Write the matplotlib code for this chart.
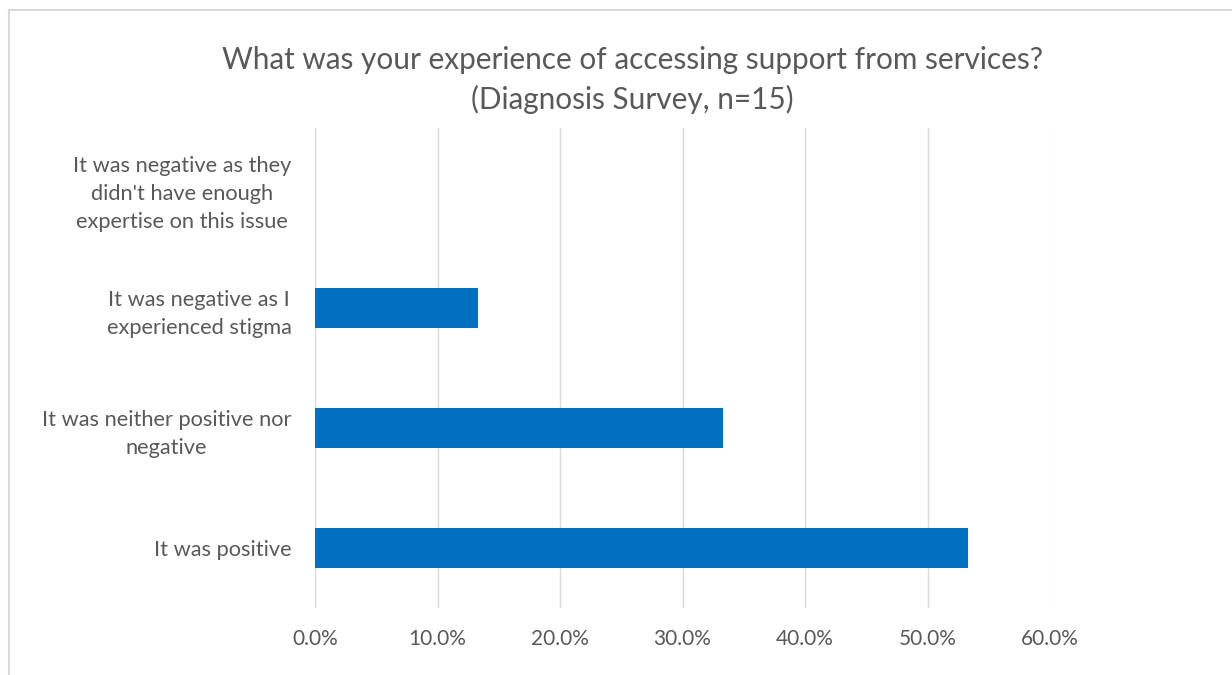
import matplotlib
matplotlib.use("Agg")
import matplotlib.pyplot as plt
from matplotlib.lines import Line2D
from matplotlib.ticker import FuncFormatter, MultipleLocator

categories = [
    "It was positive",
    "It was neither positive nor\nnegative",
    "It was negative as I\nexperienced stigma",
    "It was negative as they\ndidn't have enough\nexpertise on this issue",
]
responses = [8, 5, 2, 0]
n_total = 15
shares = [r / n_total * 100 for r in responses]

title = "What was your experience of accessing support from services?\n(Diagnosis Survey, n=15)"

plt.rcParams["font.family"] = ["Lato", "DejaVu Sans"]
text_color = "#595959"
grid_color = "#d9d9d9"
bar_color = "#0070c0"

W, H = 1232, 675
fig = plt.figure(figsize=(W / 100, H / 100), dpi=100)
ax = fig.add_axes([315 / W, (H - 608) / H, (1050 - 315) / W, (608 - 128) / H])

y = list(range(len(categories)))
ax.barh(y, shares, height=0.34, color=bar_color, zorder=3)
ax.set_ylim(-0.5, len(categories) - 0.5)
ax.set_xlim(0, 60)
ax.xaxis.set_major_locator(MultipleLocator(10))
ax.xaxis.set_major_formatter(FuncFormatter(lambda v, _: f"{v:.1f}%"))
ax.grid(axis="x", color=grid_color, linewidth=1, zorder=0)
for s in ax.spines.values():
    s.set_visible(False)
ax.tick_params(axis="both", length=0, colors=text_color, labelsize=15)
ax.tick_params(axis="x", pad=15)
ax.tick_params(axis="y", labelsize=15.7, pad=17)
ax.set_yticks(y)
ax.set_yticklabels(categories, multialignment="center", linespacing=1.5)

fig.text(632 / W, 1 - 80 / H, title, ha="center", va="center", fontsize=21.4,
         color=text_color, linespacing=1.45)

# chart frame
fig.add_artist(Line2D([9 / W, 1], [1 - 10 / H, 1 - 10 / H], color=grid_color, linewidth=1.5,
                      transform=fig.transFigure))
fig.add_artist(Line2D([9 / W, 9 / W], [0, 1 - 10 / H], color=grid_color, linewidth=1.5,
                      transform=fig.transFigure))

fig.savefig("out.png", dpi=100, facecolor="white")
